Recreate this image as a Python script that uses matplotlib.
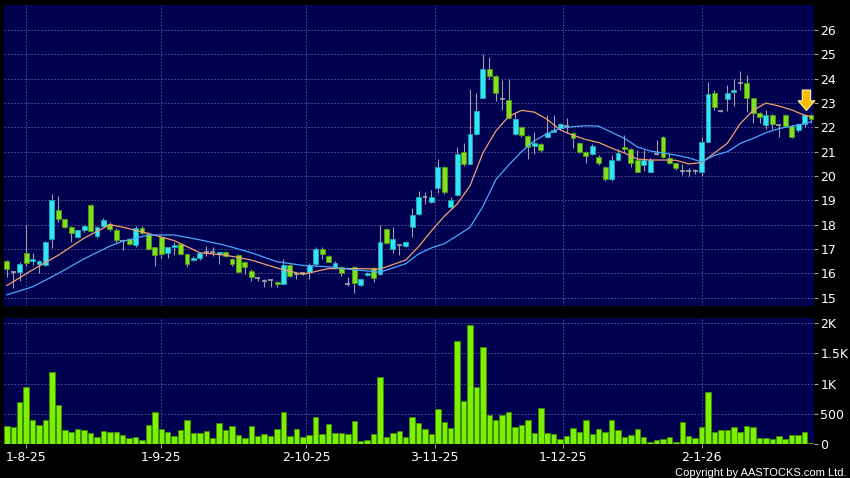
import matplotlib
matplotlib.use('Agg')
import matplotlib.pyplot as plt

# ── Data ──────────────────────────────────────────────────────────────────────
opens = [16.50, 16.05, 16.05, 16.85, 16.50, 16.40, 16.36, 17.40, 18.60, 18.23,
         17.90, 17.50, 17.77, 18.82, 17.52, 17.96, 18.02, 17.80, 17.35, 17.40,
         17.16, 17.85, 17.64, 17.07, 17.48, 16.82, 17.07, 17.20, 16.78, 16.55,
         16.62, 16.90, 16.90, 16.78, 16.89, 16.60, 16.75, 16.45, 16.10, 15.80,
         15.68, 15.72, 15.66, 15.56, 16.34, 15.97, 16.00, 16.07, 16.37, 16.99,
         16.73, 16.27, 16.27, 15.56, 16.27, 15.52, 15.92, 16.23, 15.97, 17.81,
         16.99, 17.16, 17.14, 17.89, 18.44, 19.15, 18.92, 19.49, 20.38, 18.71,
         19.22, 21.00, 20.49, 21.71, 23.19, 24.42, 24.11, 23.16, 23.12, 21.71,
         22.03, 21.66, 21.25, 21.32, 21.59, 21.82, 21.96, 22.05, 21.78, 21.34,
         21.00, 20.90, 20.79, 20.38, 19.86, 20.66, 21.20, 21.10, 20.68, 20.45,
         20.18, 20.90, 21.62, 20.73, 20.52, 20.22, 20.22, 20.22, 20.18, 21.41,
         23.42, 22.67, 23.15, 23.44, 23.84, 23.84, 23.19, 22.58, 22.10, 22.50,
         22.10, 22.50, 22.05, 21.89, 22.14, 22.50]
closes = [16.20, 16.05, 16.40, 16.42, 16.58, 16.50, 17.30, 19.00, 18.25, 17.90,
          17.66, 17.77, 17.96, 17.73, 17.89, 18.20, 17.81, 17.36, 17.35, 17.22,
          17.85, 17.67, 17.00, 16.75, 16.80, 17.07, 17.16, 16.78, 16.37, 16.64,
          16.82, 16.90, 16.90, 16.89, 16.72, 16.37, 16.07, 16.27, 15.86, 15.80,
          15.68, 15.72, 15.56, 16.34, 15.89, 15.97, 16.00, 16.34, 17.00, 16.80,
          16.48, 16.44, 16.00, 15.56, 15.59, 15.75, 16.03, 15.82, 17.30, 17.23,
          17.40, 17.16, 17.30, 18.40, 19.12, 19.15, 19.15, 20.38, 19.36, 19.01,
          20.90, 20.49, 21.71, 22.68, 24.42, 24.11, 23.40, 23.16, 22.37, 22.33,
          21.68, 21.18, 21.34, 21.07, 21.78, 21.89, 22.16, 22.05, 21.55, 21.00,
          20.82, 21.23, 20.52, 19.86, 20.66, 20.96, 21.10, 20.55, 20.18, 20.68,
          20.68, 20.90, 20.79, 20.52, 20.32, 20.22, 20.22, 20.22, 21.41, 23.37,
          22.85, 22.67, 23.42, 23.53, 23.84, 23.19, 22.58, 22.41, 22.50, 22.14,
          22.10, 22.05, 21.62, 22.16, 22.50, 22.34]
highs = [16.55, 16.10, 16.45, 18.00, 16.84, 16.55, 17.35, 19.25, 19.20, 18.25,
         17.95, 17.80, 18.00, 18.85, 17.95, 18.27, 18.10, 17.85, 17.40, 17.45,
         17.96, 17.96, 17.70, 17.10, 17.55, 17.10, 17.30, 17.25, 16.80, 16.70,
         16.85, 17.12, 17.10, 16.90, 16.92, 16.65, 16.80, 16.50, 16.20, 15.85,
         15.75, 15.72, 15.68, 16.58, 16.40, 16.05, 16.05, 16.41, 17.10, 17.10,
         16.75, 16.50, 16.30, 15.86, 16.30, 15.78, 16.05, 16.25, 17.99, 17.85,
         17.92, 17.16, 17.35, 18.70, 19.40, 19.35, 19.42, 20.70, 20.40, 19.15,
         21.20, 21.35, 23.56, 23.40, 25.00, 24.90, 24.15, 23.95, 24.00, 22.58,
         22.05, 21.70, 21.80, 21.35, 22.50, 22.50, 22.20, 22.40, 21.80, 21.40,
         21.05, 21.30, 20.85, 20.40, 20.85, 21.10, 21.68, 21.15, 21.07, 21.07,
         20.75, 21.48, 21.65, 20.93, 20.55, 20.50, 20.35, 20.30, 21.60, 23.88,
         23.52, 22.70, 23.73, 24.00, 24.30, 24.15, 23.20, 22.62, 22.70, 22.55,
         22.10, 22.55, 22.10, 22.20, 22.55, 22.55]
lows = [15.85, 15.40, 15.67, 16.30, 16.36, 16.00, 16.30, 17.05, 18.10, 17.85,
        17.30, 17.45, 17.70, 17.70, 17.45, 17.90, 17.75, 17.25, 16.95, 17.15,
        17.10, 17.60, 16.95, 16.32, 16.65, 16.65, 16.75, 16.75, 16.27, 16.50,
        16.55, 16.70, 16.70, 16.40, 16.68, 16.30, 16.00, 15.98, 15.70, 15.70,
        15.45, 15.45, 15.45, 15.56, 15.85, 15.75, 15.95, 15.75, 16.30, 16.60,
        16.45, 16.20, 15.90, 15.48, 15.18, 15.50, 15.90, 15.65, 15.95, 17.20,
        16.85, 16.75, 17.10, 17.50, 18.42, 18.85, 18.90, 19.30, 19.25, 18.68,
        19.20, 20.40, 20.49, 21.70, 23.19, 24.00, 23.10, 22.70, 22.35, 21.70,
        21.60, 20.70, 20.90, 21.00, 21.55, 21.80, 21.90, 21.75, 21.15, 20.95,
        20.55, 20.85, 20.45, 19.80, 19.80, 20.60, 21.00, 20.38, 20.15, 20.20,
        20.15, 20.85, 20.75, 20.50, 20.25, 20.05, 20.00, 20.10, 20.00, 21.40,
        22.70, 22.65, 22.68, 22.90, 23.55, 22.65, 22.20, 22.20, 21.95, 21.95,
        21.62, 22.00, 21.58, 21.80, 22.00, 22.20]
volumes = [300, 278, 700, 950, 400, 317, 400, 1194, 644, 239,
           194, 256, 228, 189, 122, 211, 194, 194, 144, 94,
           122, 67, 317, 528, 256, 206, 128, 239, 406, 183,
           189, 211, 100, 344, 239, 294, 144, 100, 294, 139,
           161, 139, 250, 528, 128, 244, 117, 156, 444, 167,
           328, 178, 178, 161, 383, 44, 67, 167, 1117, 117,
           178, 211, 122, 444, 356, 250, 172, 578, 367, 261,
           1706, 711, 1967, 939, 1606, 478, 400, 478, 533, 289,
           311, 406, 183, 589, 183, 172, 78, 133, 261, 194,
           394, 167, 250, 194, 394, 233, 111, 150, 250, 122,
           33, 72, 89, 122, 28, 367, 128, 100, 283, 861,
           200, 228, 239, 278, 206, 294, 278, 100, 100, 78,
           128, 78, 144, 156, 206, 17]

# moving averages, read at sample bars
ma_idx = [0, 4, 8, 12, 16, 18, 22, 26, 30, 34, 38, 42, 46, 50, 54, 58, 62, 64,
          66, 68, 70, 72, 74, 76, 78, 80, 82, 84, 86, 88, 90, 92, 94, 96, 98,
          100, 102, 104, 106, 108, 110, 112, 114, 116, 118, 120, 122, 124, 125]
ma_short = [15.50, 16.15, 16.75, 17.45, 18.00, 17.90, 17.64, 17.35, 16.85, 16.75,
            16.55, 16.22, 15.96, 16.20, 16.20, 16.18, 16.55, 17.10, 17.75, 18.35,
            18.85, 19.60, 20.95, 21.85, 22.45, 22.70, 22.63, 22.33, 21.90, 21.68,
            21.50, 21.38, 21.15, 20.95, 20.70, 20.66, 20.66, 20.65, 20.50, 20.55,
            20.95, 21.35, 22.15, 22.70, 23.00, 22.88, 22.72, 22.50, 22.44]
ma_long = [15.12, 15.45, 16.00, 16.60, 17.12, 17.32, 17.58, 17.58, 17.38, 17.15,
           16.85, 16.48, 16.33, 16.27, 16.15, 16.05, 16.40, 16.80, 17.05, 17.22,
           17.55, 17.90, 18.75, 19.85, 20.45, 21.00, 21.45, 21.75, 21.96, 22.03,
           22.07, 22.05, 21.80, 21.55, 21.20, 21.03, 20.95, 20.86, 20.75, 20.58,
           20.85, 21.00, 21.34, 21.55, 21.78, 21.95, 22.05, 22.15, 22.23]

price_ticks = [15, 16, 17, 18, 19, 20, 21, 22, 23, 24, 25, 26]
vol_ticks = [0, 500, 1000, 1500, 2000]
vol_tick_labels = ['0', '500', '1K', '1.5K', '2K']
date_pos = [3, 24, 46.5, 66.5, 86.5, 108]
date_labels = ['1-8-25', '1-9-25', '2-10-25', '3-11-25', '1-12-25', '2-1-26']

# ── Style ─────────────────────────────────────────────────────────────────────
NAVY = '#000050'
GRID = '#5c5c96'
UP = '#33e4f2'
DOWN = '#80e020'
DOJI = '#a8a8a8'
WICK = '#a0a0a0'

fig = plt.figure(figsize=(8.5, 4.78), dpi=100, facecolor='black')
ax = fig.add_axes([0.0047, 0.3598, 0.9524, 0.6297], facecolor=NAVY)
axv = fig.add_axes([0.0047, 0.0711, 0.9524, 0.263], facecolor=NAVY)

x = list(range(len(opens)))

# ── Candles ───────────────────────────────────────────────────────────────────
ax.vlines(x, lows, highs, color=WICK, linewidth=0.8, zorder=2)
for i in x:
    o, c = opens[i], closes[i]
    if abs(c - o) < 0.01:
        ax.hlines(o, i - 0.38, i + 0.38, color=DOJI, linewidth=1.2, zorder=3)
    else:
        col = UP if c > o else DOWN
        edge = '#1aa8b8' if c > o else '#4f9a10'
        ax.bar(i, abs(c - o), bottom=min(o, c), width=0.76, color=col,
               edgecolor=edge, linewidth=0.6, zorder=3)

ax.plot(ma_idx, ma_short, color='#f0a070', linewidth=0.9, zorder=4)
ax.plot(ma_idx, ma_long, color='#4aa8ff', linewidth=0.9, zorder=4)

# marker arrow on the latest session
ax.annotate('', xy=(124.3, 22.58), xytext=(124.3, 23.65),
            arrowprops=dict(arrowstyle='simple,head_width=1.2,head_length=0.7,tail_width=0.6',
                            fc='#f6bc00', ec='#fff2a8', lw=0.8), zorder=6)

ax.set_xlim(-0.45, 125.4)
ax.set_ylim(14.66, 27.03)
ax.set_yticks(price_ticks)
ax.set_xticks(date_pos)
ax.yaxis.tick_right()
ax.tick_params(axis='y', colors='#9a9a9a', labelcolor='white', length=3, width=0.8,
               pad=2, labelsize=9)
ax.tick_params(axis='x', length=0, labelbottom=False)
ax.grid(True, color=GRID, linestyle=(0, (2, 2)), linewidth=0.6, zorder=0)
for s in ax.spines.values():
    s.set_visible(False)

# ── Volume ────────────────────────────────────────────────────────────────────
axv.bar(x, volumes, width=0.85, color='#7cf000', edgecolor='#3f9000', linewidth=0.6, zorder=3)
axv.set_xlim(-0.45, 125.4)
axv.set_ylim(0, 2083)
axv.set_yticks(vol_ticks)
axv.set_yticklabels(vol_tick_labels)
axv.set_xticks(date_pos)
axv.set_xticklabels(date_labels)
axv.yaxis.tick_right()
axv.tick_params(axis='y', colors='#9a9a9a', labelcolor='white', length=3, width=0.8,
                pad=2, labelsize=9)
axv.tick_params(axis='x', colors='#9a9a9a', labelcolor='white', length=3, width=0.8,
                pad=2, labelsize=9)
axv.grid(True, color=GRID, linestyle=(0, (2, 2)), linewidth=0.6, zorder=0)
for s in axv.spines.values():
    s.set_visible(False)

fig.text(0.996, 0.001, 'Copyright by AASTOCKS.com Ltd.', ha='right', va='bottom',
         color='white', fontsize=8, family='Liberation Sans')

fig.savefig('out.png', dpi=100, facecolor='black')
